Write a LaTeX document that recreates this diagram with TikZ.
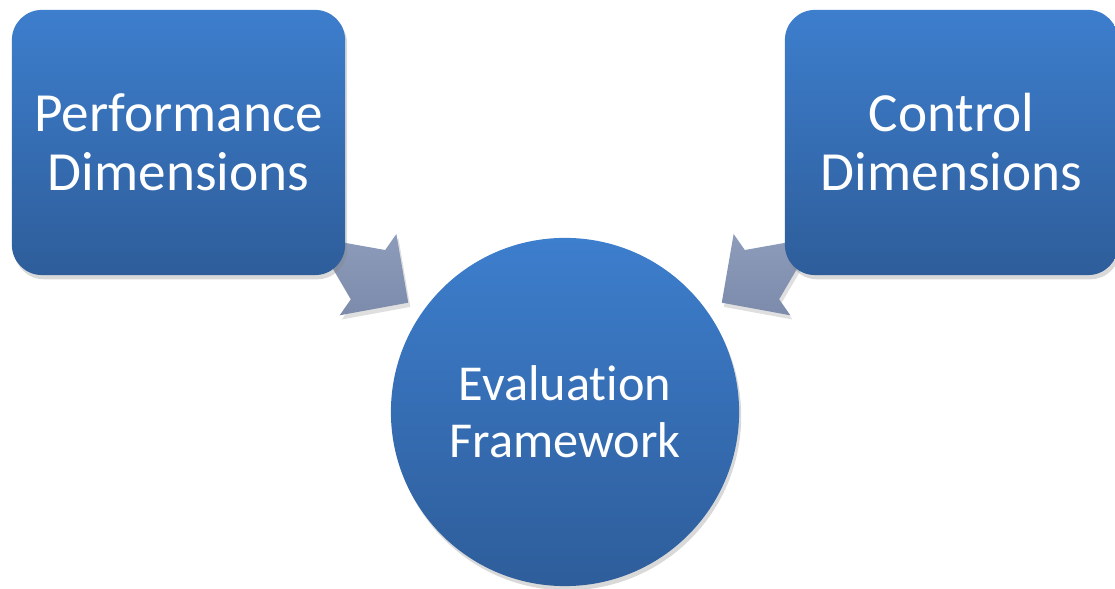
\documentclass[tikz,border=0pt]{standalone}
\usepackage{fontspec}
\setmainfont{Carlito}[Ligatures=CommonOff]
\usepackage{tikz}
\usepackage{xcolor}
\usetikzlibrary{positioning, calc, shadows}
\definecolor{boxtop}{RGB}{61, 126, 205}
\definecolor{boxbot}{RGB}{46, 93, 154}
\definecolor{flowtop}{RGB}{155, 168, 199}
\definecolor{flowbot}{RGB}{124, 139, 171}

\begin{document}
\begin{tikzpicture}[
    x=0.01cm, y=-0.01cm,
    dimbox/.style={rectangle, rounded corners=0.3cm, minimum width=3.33cm, minimum height=2.65cm,
        top color=boxtop, bottom color=boxbot, text=white, align=center, inner sep=0pt,
        font=\fontsize{15.7}{16.8}\selectfont,
        drop shadow={opacity=0.3, shadow xshift=0.6pt, shadow yshift=-1.2pt}},
    core/.style={circle, minimum size=3.48cm, inner sep=0pt,
        top color=boxtop, bottom color=boxbot, text=white, align=center,
        font=\fontsize{14.3}{16.2}\selectfont,
        drop shadow={opacity=0.3, shadow xshift=0.6pt, shadow yshift=-1.2pt}},
    flow/.style={top color=flowtop, bottom color=flowbot,
        drop shadow={opacity=0.25, shadow xshift=0.6pt, shadow yshift=-1.2pt}}
]
\useasboundingbox (0,0) rectangle (1115,589);

% Nodes
\node[core] (eval) at (565,412) {Evaluation\\Framework};
\coordinate (perfc) at (178.5,142.5);
\coordinate (ctrlc) at (951.5,142.5);

% Block arrows (behind the boxes)
\coordinate (ltip) at ($(eval.center)!1.91cm!(perfc)$);
\coordinate (lbase) at ($(ltip)!0.49cm!(perfc)$);
\coordinate (ltail) at ($(lbase)!1.3cm!(perfc)$);
\path[flow] (ltip) -- ($(lbase)!0.495cm!90:(ltip)$) -- ($(lbase)!0.3cm!90:(ltip)$)
    -- ($(ltail)!0.3cm!-90:(lbase)$) -- ($(ltail)!0.3cm!90:(lbase)$)
    -- ($(lbase)!0.3cm!-90:(ltip)$) -- ($(lbase)!0.495cm!-90:(ltip)$) -- cycle;

\coordinate (rtip) at ($(eval.center)!1.91cm!(ctrlc)$);
\coordinate (rbase) at ($(rtip)!0.49cm!(ctrlc)$);
\coordinate (rtail) at ($(rbase)!1.3cm!(ctrlc)$);
\path[flow] (rtip) -- ($(rbase)!0.495cm!90:(rtip)$) -- ($(rbase)!0.3cm!90:(rtip)$)
    -- ($(rtail)!0.3cm!-90:(rbase)$) -- ($(rtail)!0.3cm!90:(rbase)$)
    -- ($(rbase)!0.3cm!-90:(rtip)$) -- ($(rbase)!0.495cm!-90:(rtip)$) -- cycle;

\node[dimbox] (perf) at (perfc) {Performance\\Dimensions};
\node[dimbox] (ctrl) at (ctrlc) {Control\\Dimensions};

\end{tikzpicture}
\end{document}
